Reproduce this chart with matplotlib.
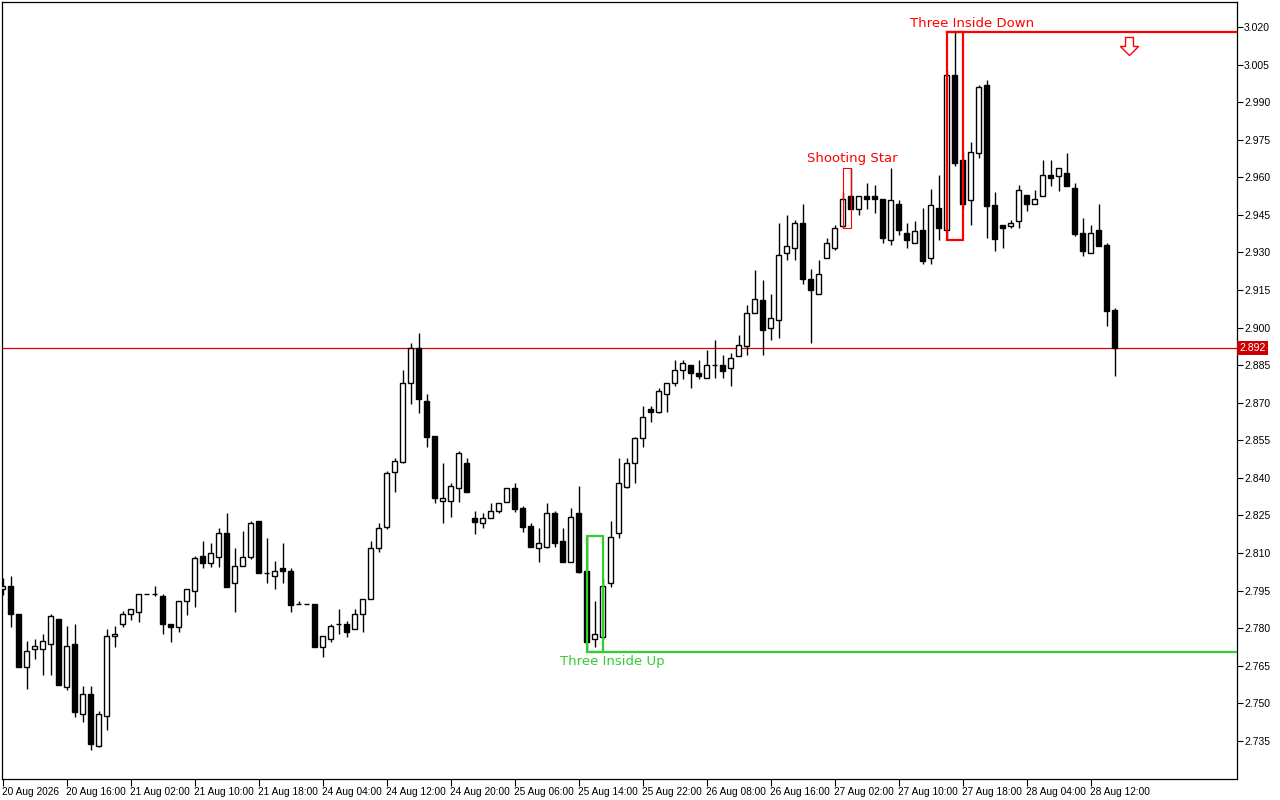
import numpy as np
import matplotlib
matplotlib.use('Agg')
import matplotlib.pyplot as plt
from matplotlib.patches import Rectangle
from matplotlib.path import Path
import matplotlib.transforms as mtransforms

# hourly OHLC bars
opens = [2.7956, 2.7968, 2.7857, 2.7646, 2.7716, 2.7716, 2.7736, 2.7837, 2.7567, 2.7737,
         2.7457, 2.7536, 2.7329, 2.7449, 2.7768, 2.7816, 2.7856, 2.7866, 2.7937, 2.7935,
         2.7927, 2.7816, 2.7806, 2.7907, 2.7947, 2.8088, 2.8059, 2.8085, 2.8179, 2.7979,
         2.8047, 2.8085, 2.8228, 2.8022, 2.8007, 2.8039, 2.8027, 2.7896, 2.7896, 2.7896,
         2.7726, 2.7756, 2.7816, 2.7816, 2.7796, 2.7856, 2.7915, 2.8119, 2.8205, 2.8425,
         2.8464, 2.8777, 2.8917, 2.8707, 2.8567, 2.8306, 2.8306, 2.8358, 2.8458, 2.8239,
         2.8219, 2.8239, 2.8268, 2.8304, 2.8358, 2.8278, 2.8208, 2.8119, 2.8125, 2.8259,
         2.8148, 2.8065, 2.8259, 2.8028, 2.7756, 2.7766, 2.7979, 2.8179, 2.8365, 2.8458,
         2.8558, 2.8677, 2.8664, 2.8737, 2.8777, 2.8830, 2.8850, 2.8817, 2.8797, 2.8850,
         2.8850, 2.8837, 2.8887, 2.8927, 2.9057, 2.9110, 2.8997, 2.9030, 2.9296, 2.9316,
         2.9418, 2.9196, 2.9136, 2.9276, 2.9316, 2.9406, 2.9526, 2.9475, 2.9526, 2.9526,
         2.9515, 2.9349, 2.9495, 2.9376, 2.9336, 2.9389, 2.9276, 2.9478, 2.9389, 3.0007,
         2.9668, 2.9509, 2.9699, 2.9967, 2.9489, 2.9409, 2.9406, 2.9426, 2.9529, 2.9495,
         2.9526, 2.9608, 2.9606, 2.9619, 2.9559, 2.9376, 2.9296, 2.9389, 2.9329, 2.9070]
highs = [2.8000, 2.8008, 2.7857, 2.7749, 2.7756, 2.7777, 2.7857, 2.7837, 2.7809, 2.7817,
         2.7570, 2.7570, 2.7470, 2.7797, 2.7809, 2.7869, 2.7877, 2.7937, 2.7938, 2.7968,
         2.7935, 2.7816, 2.7907, 2.7955, 2.8088, 2.8148, 2.8140, 2.8200, 2.8260, 2.8120,
         2.8188, 2.8228, 2.8228, 2.8160, 2.8068, 2.8140, 2.8039, 2.7909, 2.7897, 2.7896,
         2.7768, 2.7816, 2.7876, 2.7829, 2.7876, 2.7915, 2.8148, 2.8219, 2.8427, 2.8479,
         2.8830, 2.8937, 2.8977, 2.8737, 2.8567, 2.8458, 2.8378, 2.8507, 2.8478, 2.8268,
         2.8259, 2.8298, 2.8298, 2.8358, 2.8381, 2.8288, 2.8219, 2.8199, 2.8298, 2.8268,
         2.8199, 2.8278, 2.8367, 2.8168, 2.7909, 2.7999, 2.8228, 2.8478, 2.8478, 2.8564,
         2.8687, 2.8687, 2.8757, 2.8777, 2.8870, 2.8870, 2.8850, 2.8870, 2.8910, 2.8950,
         2.8890, 2.8897, 2.8970, 2.9090, 2.9229, 2.9189, 2.9136, 2.9416, 2.9449, 2.9429,
         2.9495, 2.9236, 2.9269, 2.9356, 2.9409, 2.9542, 2.9638, 2.9526, 2.9579, 2.9570,
         2.9515, 2.9638, 2.9509, 2.9416, 2.9426, 2.9478, 2.9552, 2.9608, 3.0027, 3.0180,
         2.9700, 2.9741, 2.9970, 2.9987, 2.9541, 2.9409, 2.9429, 2.9568, 2.9529, 2.9549,
         2.9668, 2.9668, 2.9639, 2.9699, 2.9579, 2.9436, 2.9409, 2.9495, 2.9336, 2.9077]
lows = [2.7933, 2.7806, 2.7646, 2.7557, 2.7676, 2.7613, 2.7613, 2.7575, 2.7553, 2.7447,
        2.7427, 2.7314, 2.7327, 2.7394, 2.7726, 2.7806, 2.7833, 2.7826, 2.7936, 2.7927,
        2.7776, 2.7746, 2.7786, 2.7854, 2.7886, 2.8039, 2.8045, 2.8045, 2.7966, 2.7866,
        2.8047, 2.8077, 2.8019, 2.7979, 2.7955, 2.7979, 2.7866, 2.7895, 2.7895, 2.7726,
        2.7686, 2.7746, 2.7776, 2.7766, 2.7796, 2.7786, 2.7915, 2.8105, 2.8196, 2.8345,
        2.8458, 2.8697, 2.8658, 2.8524, 2.8298, 2.8219, 2.8245, 2.8304, 2.8345, 2.8176,
        2.8199, 2.8239, 2.8259, 2.8304, 2.8265, 2.8185, 2.8125, 2.8065, 2.8119, 2.8125,
        2.8065, 2.8065, 2.8019, 2.7706, 2.7726, 2.7753, 2.7966, 2.8159, 2.8358, 2.8378,
        2.8524, 2.8624, 2.8658, 2.8664, 2.8766, 2.8794, 2.8757, 2.8794, 2.8797, 2.8797,
        2.8797, 2.8768, 2.8887, 2.8890, 2.9057, 2.8890, 2.8950, 2.8957, 2.9269, 2.9269,
        2.9176, 2.8937, 2.9136, 2.9276, 2.9309, 2.9396, 2.9475, 2.9449, 2.9475, 2.9456,
        2.9336, 2.9329, 2.9369, 2.9316, 2.9336, 2.9256, 2.9256, 2.9348, 2.9349, 2.9645,
        2.9475, 2.9409, 2.9677, 2.9356, 2.9307, 2.9316, 2.9396, 2.9396, 2.9466, 2.9495,
        2.9526, 2.9566, 2.9546, 2.9566, 2.9365, 2.9286, 2.9296, 2.9326, 2.9007, 2.8808]
closes = [2.7968, 2.7856, 2.7646, 2.7709, 2.7729, 2.7749, 2.7849, 2.7575, 2.7729, 2.7467,
          2.7536, 2.7337, 2.7457, 2.7768, 2.7776, 2.7857, 2.7876, 2.7937, 2.7937, 2.7935,
          2.7816, 2.7806, 2.7907, 2.7955, 2.8079, 2.8059, 2.8099, 2.8179, 2.7966, 2.8047,
          2.8085, 2.8219, 2.8019, 2.8021, 2.8027, 2.8027, 2.7894, 2.7896, 2.7896, 2.7726,
          2.7768, 2.7808, 2.7816, 2.7786, 2.7856, 2.7915, 2.8119, 2.8199, 2.8418, 2.8466,
          2.8777, 2.8917, 2.8717, 2.8564, 2.8318, 2.8318, 2.8367, 2.8498, 2.8345, 2.8225,
          2.8239, 2.8268, 2.8298, 2.8358, 2.8276, 2.8205, 2.8125, 2.8139, 2.8259, 2.8139,
          2.8065, 2.8245, 2.8026, 2.7746, 2.7776, 2.7968, 2.8165, 2.8378, 2.8458, 2.8558,
          2.8644, 2.8664, 2.8748, 2.8777, 2.8830, 2.8857, 2.8817, 2.8807, 2.8850, 2.8850,
          2.8827, 2.8877, 2.8930, 2.9057, 2.9116, 2.8990, 2.9037, 2.9289, 2.9326, 2.9416,
          2.9196, 2.9149, 2.9216, 2.9336, 2.9396, 2.9515, 2.9475, 2.9526, 2.9515, 2.9515,
          2.9356, 2.9509, 2.9389, 2.9349, 2.9386, 2.9265, 2.9489, 2.9396, 3.0007, 2.9657,
          2.9495, 2.9701, 2.9961, 2.9486, 2.9355, 2.9396, 2.9416, 2.9549, 2.9495, 2.9515,
          2.9608, 2.9599, 2.9639, 2.9566, 2.9373, 2.9306, 2.9376, 2.9326, 2.9067, 2.8920]

time_labels = ['20 Aug 2026', '20 Aug 16:00', '21 Aug 02:00', '21 Aug 10:00', '21 Aug 18:00',
               '24 Aug 04:00', '24 Aug 12:00', '24 Aug 20:00', '25 Aug 06:00', '25 Aug 14:00',
               '25 Aug 22:00', '26 Aug 08:00', '26 Aug 16:00', '27 Aug 02:00', '27 Aug 10:00',
               '27 Aug 18:00', '28 Aug 04:00', '28 Aug 12:00']
last_price = 2.892

# patterns: (name, first bar, last bar, colour)
patterns = [('Shooting Star', 105, 106, 'red'),
            ('Three Inside Down', 118, 120, 'red'),
            ('Three Inside Up', 73, 75, '#32cd32')]

o = np.array(opens); h = np.array(highs); l = np.array(lows); c = np.array(closes)
x = np.arange(len(o))

fig = plt.figure(figsize=(12.8, 8), dpi=100)
ax = fig.add_axes([2/1280, 21/800, 1235/1280, 777/800])

ax.vlines(x, l, h, color='black', lw=1, zorder=2)
bull = c >= o
bottom = np.minimum(o, c)
height = np.abs(c - o)
ax.bar(x[bull], height[bull], bottom=bottom[bull], width=0.6, color='white',
       edgecolor='black', linewidth=1, zorder=3)
ax.bar(x[~bull], height[~bull], bottom=bottom[~bull], width=0.6, color='black',
       edgecolor='black', linewidth=1, zorder=3)

xmax = 154.3
# current price line
ax.axhline(last_price, color='#dd0000', lw=0.9, zorder=1)

# pattern boxes
for name, i0, i1, col in patterns:
    top = h[i0:i1+1].max()
    low = l[i0:i1+1].min()
    lw = 0.8 if name == 'Shooting Star' else 1.6
    ax.add_patch(Rectangle((i0, low), i1 - i0, top - low, fill=False,
                           edgecolor=col, lw=lw, zorder=4))
    if name == 'Three Inside Down':
        ax.plot([i0, xmax], [top, top], color=col, lw=lw, zorder=4)
        ax.text((i0 + i1) / 2 + 2.2, top + 0.0010, name, color=col, fontsize=9.5,
                ha='center', va='bottom')
    elif name == 'Three Inside Up':
        ax.plot([i0, xmax], [low, low], color=col, lw=lw, zorder=4)
        ax.text((i0 + i1) / 2 + 2.2, low - 0.0012, name, color=col, fontsize=9.5,
                ha='center', va='top')
    else:
        ax.text((i0 + i1) / 2 + 0.7, top + 0.0012, name, color=col, fontsize=9.5,
                ha='center', va='bottom')

# signal arrow (hollow down arrow)
arrow = Path([(-0.22, 0.5), (0.22, 0.5), (0.22, 0.0), (0.5, 0.0), (0.0, -0.5),
              (-0.5, 0.0), (-0.22, 0.0), (-0.22, 0.5)], closed=True)
ax.plot([140.8], [3.0124], marker=arrow, markersize=13, mfc='white', mec='red',
        mew=1.0, zorder=5)

ax.set_xlim(-0.09, xmax)
ax.set_ylim(2.7198, 3.030)

yt = np.round(np.arange(2.735, 3.0201, 0.015), 3)
ax.yaxis.tick_right()
ax.set_yticks(yt)
ax.set_yticklabels(['%.3f' % v for v in yt], family='Liberation Sans')
ax.tick_params(axis='y', direction='out', length=4, width=0.8, labelsize=7.5, pad=1)

ax.set_xticks(np.arange(0, len(time_labels) * 8, 8))
ax.set_xticklabels(time_labels, ha='left', family='Liberation Sans')
ax.tick_params(axis='x', direction='out', length=5, width=0.8, labelsize=7.3, pad=1)
for lab in ax.get_xticklabels():
    lab.set_transform(lab.get_transform() + mtransforms.ScaledTranslation(-1/100, 0, fig.dpi_scale_trans))

for s in ax.spines.values():
    s.set_color('black')
    s.set_linewidth(0.9)

# price tag on the axis
ax.annotate('%.3f' % last_price, xy=(1, last_price), xycoords=('axes fraction', 'data'),
            xytext=(1.5, 0), textcoords='offset points', ha='left', va='center',
            fontsize=7.5, color='white', family='Liberation Sans',
            bbox=dict(boxstyle='square,pad=0.2', fc='#cc0000', ec='none'))

fig.savefig('out.png', dpi=100)
